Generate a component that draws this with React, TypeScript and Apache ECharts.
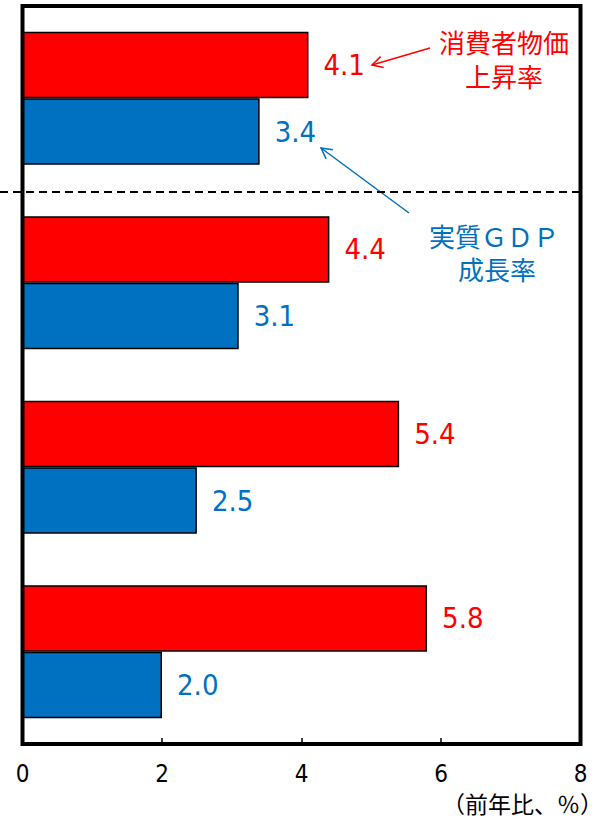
import React, { useEffect, useRef } from "react";
import * as echarts from "echarts";

const categories = ["A", "B", "C", "D"];
const cpiValues = [4.1, 4.4, 5.4, 5.8];
const gdpValues = [3.4, 3.1, 2.5, 2.0];
const xTicks = [0, 2, 4, 6, 8];
const cpiName = "消費者物価上昇率";
const gdpName = "実質ＧＤＰ成長率";
const cpiLines = ["消費者物価", "上昇率"];
const gdpLines = ["実質ＧＤＰ", "成長率"];
const unitLabel = "（前年比、％）";

const RED = "#FF0000";
const BLUE = "#0070C0";
const NUM_FONT = "'Liberation Sans Narrow', 'DejaVu Sans Condensed', 'Liberation Sans', sans-serif";
const JP_FONT = "'Noto Sans CJK JP', sans-serif";

function arrow(x1: number, y1: number, x2: number, y2: number, color: string) {
  const dx = x2 - x1;
  const dy = y2 - y1;
  const len = Math.sqrt(dx * dx + dy * dy);
  const ux = dx / len;
  const uy = dy / len;
  const L = 12;
  const a = (28 * Math.PI) / 180;
  const rot = (ang: number) => [
    x2 - L * (ux * Math.cos(ang) - uy * Math.sin(ang)),
    y2 - L * (ux * Math.sin(ang) + uy * Math.cos(ang)),
  ];
  const p1 = rot(a);
  const p2 = rot(-a);
  return [
    {
      type: "line",
      shape: { x1, y1, x2, y2 },
      style: { stroke: color, lineWidth: 1.5 },
      silent: true,
    },
    {
      type: "polyline",
      shape: { points: [p1, [x2, y2], p2] },
      style: { stroke: color, lineWidth: 1.5, fill: null },
      silent: true,
    },
  ];
}

function jpText(text: string, x: number, y: number, color: string, size: number, align = "center") {
  return {
    type: "text",
    x,
    y,
    style: {
      text,
      fill: color,
      font: `${size}px ${JP_FONT}`,
      align,
      verticalAlign: "middle",
      lineHeight: size,
    },
  };
}

export default function App() {
  const ref = useRef<HTMLDivElement>(null);
  useEffect(() => {
    if (!ref.current) return;
    const chart = echarts.init(ref.current, null, { renderer: "svg" });
    const barLabel = (color: string) => ({
      show: true,
      position: "right",
      distance: 15,
      color,
      fontSize: 29,
      fontFamily: NUM_FONT,
      formatter: (p: any) => p.value.toFixed(1),
    });
    const option: any = {
      animation: false,
      grid: {
        left: 22.5,
        right: 32.5,
        top: 6,
        bottom: 79,
        show: false,
      },
      xAxis: {
        type: "value",
        min: xTicks[0],
        max: xTicks[xTicks.length - 1],
        interval: 2,
        splitLine: { show: false },
        axisLine: { show: false },
        axisTick: { show: true, inside: true, length: 6, lineStyle: { color: "#000", width: 1.5 } },
        axisLabel: {
          color: "#000",
          fontSize: 24,
          lineHeight: 20,
          fontFamily: NUM_FONT,
          margin: 20,
        },
      },
      yAxis: {
        type: "category",
        data: categories,
        inverse: true,
        axisLine: { show: false },
        axisTick: { show: false },
        axisLabel: { show: false },
        splitLine: { show: false },
      },
      series: [
        {
          name: cpiName,
          type: "bar",
          data: cpiValues,
          barGap: "0%",
          barCategoryGap: "27.9%",
          itemStyle: { color: RED, borderColor: "#000", borderWidth: 1.5 },
          label: barLabel(RED),
        },
        {
          name: gdpName,
          type: "bar",
          data: gdpValues,
          barGap: "0%",
          barCategoryGap: "27.9%",
          itemStyle: { color: BLUE, borderColor: "#000", borderWidth: 1.5 },
          label: barLabel(BLUE),
        },
      ],
    };
    chart.setOption(option);

    const y0 = chart.convertToPixel({ yAxisIndex: 0 }, 0) as number;
    const y1 = chart.convertToPixel({ yAxisIndex: 0 }, 1) as number;
    const band = y1 - y0;
    const yLast = chart.convertToPixel({ yAxisIndex: 0 }, categories.length - 1) as number;
    const top = y0 - band / 2;
    const bottom = yLast + band / 2;
    const sepY = (y0 + y1) / 2 + 1.5;
    const xLeft = chart.convertToPixel({ xAxisIndex: 0 }, xTicks[0]) as number;
    const xRight = chart.convertToPixel({ xAxisIndex: 0 }, xTicks[xTicks.length - 1]) as number;

    const graphics: any[] = [
      {
        type: "rect",
        shape: { x: xLeft, y: top, width: xRight - xLeft, height: bottom - top },
        style: { stroke: "#000", lineWidth: 4, fill: null, lineJoin: "miter" },
        silent: true,
        z: 20,
      },
      {
        type: "line",
        shape: { x1: 0, y1: sepY, x2: xRight, y2: sepY },
        style: { stroke: "#000", lineWidth: 2, lineDash: [8, 5] },
        silent: true,
        z: 10,
      },
      jpText(cpiLines[0], 504, 41.5, RED, 26),
      jpText(cpiLines[1], 504, 75, RED, 26),
      jpText(gdpLines[0], 494, 235, BLUE, 26),
      jpText(gdpLines[1], 497, 268.5, BLUE, 26),
      jpText(unitLabel, 603, 803, "#000", 23, "right"),
      ...arrow(430, 48, 372, 65, RED),
      ...arrow(409, 213, 321, 148, BLUE),
    ];
    chart.setOption({ graphic: graphics });

    return () => chart.dispose();
  }, []);
  return (
    <div
      ref={ref}
      style={{ width: 613, height: 823, position: "absolute", left: 0, top: 0 }}
    />
  );
}
